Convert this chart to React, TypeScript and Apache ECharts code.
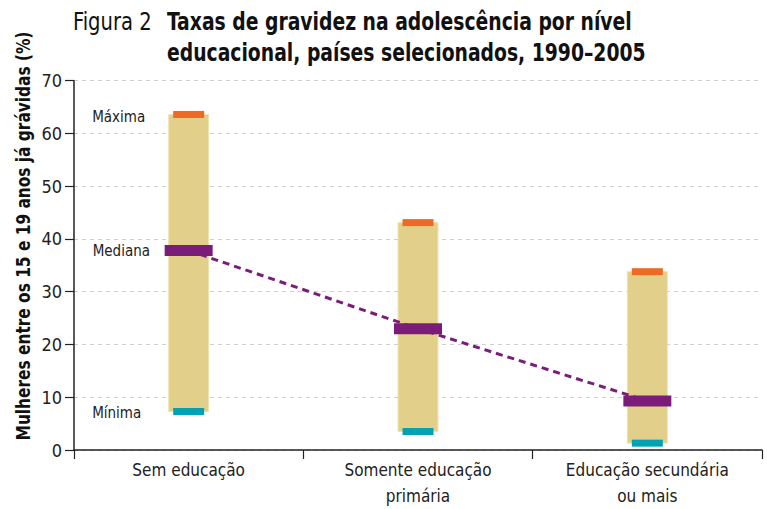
import React, { useEffect, useRef } from "react";
import * as echarts from "echarts";

const categories = ["Sem educação", "Somente educação\nprimária", "Educação secundária\nou mais"];
const maxValues = [63.6, 43.1, 33.8];
const medianValues = [37.8, 23.0, 9.3];
const minValues = [7.3, 3.5, 1.3];
const markerNames = { max: "Máxima", median: "Mediana", min: "Mínima" };
const titlePrefix = "Figura 2";
const titleText = "Taxas de gravidez na adolescência por nível\neducacional, países selecionados, 1990–2005";
const yAxisName = "Mulheres entre os 15 e 19 anos já grávidas (%)";

const FONT = '"DejaVu Sans Condensed", "Liberation Sans Narrow", sans-serif';

export default function App() {
  const ref = useRef<HTMLDivElement>(null);
  useEffect(() => {
    if (!ref.current) return;
    const chart = echarts.init(ref.current, undefined, { renderer: "svg" });
    const firstLabel = (text: string, pos: number[]) => ({
      show: true,
      formatter: text,
      position: pos,
      align: "left",
      verticalAlign: "middle",
      fontFamily: FONT,
      fontSize: 15,
      color: "#222",
    });
    const option: any = {
      animation: false,
      backgroundColor: "#fff",
      graphic: [
        {
          type: "text",
          x: 73,
          y: 6,
          scaleX: 0.87,
          style: {
            text: titlePrefix,
            fill: "#111",
            font: `normal 25px ${FONT}`,
            lineHeight: 30,
            align: "left",
            verticalAlign: "top",
          },
        },
        {
          type: "text",
          x: 167,
          y: 6,
          scaleX: 0.835,
          style: {
            text: titleText,
            fill: "#111",
            font: `bold 25px ${FONT}`,
            lineHeight: 31,
            align: "left",
            verticalAlign: "top",
          },
        },
        {
          type: "text",
          x: 23,
          y: 236,
          rotation: Math.PI / 2,
          scaleX: 0.9,
          style: {
            text: yAxisName,
            fill: "#111",
            font: `bold 19px ${FONT}`,
            align: "center",
            verticalAlign: "middle",
          },
        },
      ],
      grid: { left: 74, right: 5, top: 80.7, bottom: 52.3, containLabel: false },
      xAxis: {
        type: "category",
        data: categories,
        boundaryGap: true,
        axisLine: { show: true, lineStyle: { color: "#222", width: 1.5 } },
        axisTick: { show: true, interval: 0, length: 9, lineStyle: { color: "#222", width: 1.2 } },
        axisLabel: { interval: 0, margin: 7, fontFamily: FONT, fontSize: 17, lineHeight: 26, color: "#222" },
        splitLine: { show: false },
      },
      yAxis: {
        type: "value",
        min: 0,
        max: 70,
        interval: 10,
        axisLine: { show: true, lineStyle: { color: "#222", width: 1.5 } },
        axisTick: { show: true, length: 9, lineStyle: { color: "#222", width: 1.2 } },
        axisLabel: { margin: 12, fontFamily: FONT, fontSize: 18, color: "#222" },
        splitLine: { show: true, lineStyle: { color: "#cfcfcf", type: [4, 4], width: 1 } },
      },
      series: [
        {
          type: "custom",
          z: 1,
          data: categories.map((_, i) => [i, minValues[i], maxValues[i]]),
          encode: { x: 0, y: [1, 2] },
          renderItem: (params: any, api: any) => {
            const lo = api.coord([api.value(0), api.value(1)]);
            const hi = api.coord([api.value(0), api.value(2)]);
            const w = 40;
            return {
              type: "rect",
              shape: { x: lo[0] - w / 2, y: hi[1], width: w, height: lo[1] - hi[1] },
              style: { fill: "#E2D08A", stroke: "#EFE3B4", lineWidth: 1 },
            };
          },
        },
        {
          type: "line",
          z: 2,
          data: medianValues,
          symbol: "none",
          lineStyle: { color: "#7B1C7A", width: 3, type: [7, 5] },
          silent: true,
        },
        {
          type: "scatter",
          z: 3,
          symbol: "rect",
          symbolSize: [31, 7],
          itemStyle: { color: "#EE6A24", opacity: 1 },
          data: maxValues.map((v, i) =>
            i === 0 ? { value: v, label: firstLabel(markerNames.max, [-81, 6.5]) } : { value: v }
          ),
        },
        {
          type: "scatter",
          z: 3,
          symbol: "rect",
          symbolSize: [31, 7],
          itemStyle: { color: "#00A2B3", opacity: 1 },
          data: minValues.map((v, i) =>
            i === 0 ? { value: v, label: firstLabel(markerNames.min, [-81, 5]) } : { value: v }
          ),
        },
        {
          type: "scatter",
          z: 4,
          symbol: "rect",
          symbolSize: [48, 11],
          itemStyle: { color: "#7B1C7A", opacity: 1 },
          data: medianValues.map((v, i) =>
            i === 0 ? { value: v, label: firstLabel(markerNames.median, [-72, 6]) } : { value: v }
          ),
        },
      ],
    };
    chart.setOption(option);
    return () => chart.dispose();
  }, []);
  return (
    <div
      ref={ref}
      style={{ position: "fixed", left: 0, top: 0, width: 767, height: 509, background: "#fff" }}
    />
  );
}
